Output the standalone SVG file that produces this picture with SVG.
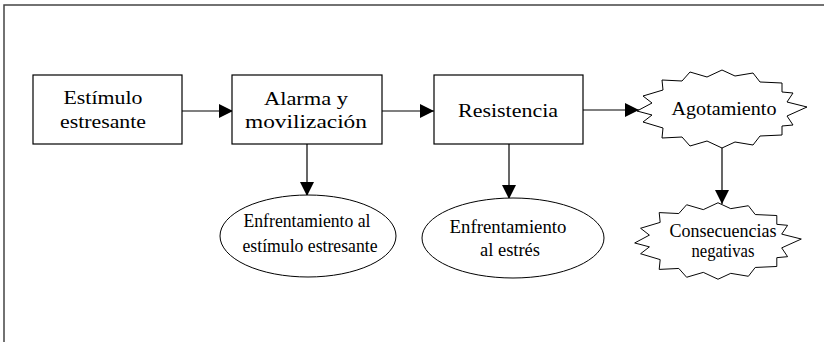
<svg xmlns="http://www.w3.org/2000/svg" width="824" height="342" viewBox="0 0 824 342">
<style>
.box{fill:#fff;stroke:#000;stroke-width:1.2}
.shape{fill:#fff;stroke:#000;stroke-width:1}
.t{font-family:"Liberation Serif","Times New Roman",serif;font-size:18px;fill:#000;text-anchor:middle}
.c{stroke:#000;stroke-width:1.2;fill:none}
</style>
<defs>
<marker id="ah" viewBox="0 0 14 14" refX="14" refY="7" markerWidth="14" markerHeight="14" markerUnits="userSpaceOnUse" orient="auto">
<path d="M0,0 L14,7 L0,14 Z" fill="#000"/>
</marker>
<path id="burst" d="M-85,2 L-70,-6 L-79,-13 L-59,-19 L-60,-29 L-40,-28 L-32,-37 L-15,-32 L0,-39 L13,-33 L31,-36 L38,-27 L60,-26 L60,-17 L71,-16 L65,-7 L85,-2 L65,7 L71,16 L60,17 L60,26 L38,27 L31,36 L13,33 L0,39 L-15,32 L-32,37 L-40,28 L-60,29 L-59,19 L-79,13 L-70,6 Z"/>
</defs>
<rect width="824" height="342" fill="#fff"/>
<path d="M4,342 V5 H824" fill="none" stroke="#444" stroke-width="1.5"/>

<g id="connectors">
<line class="c" x1="182" y1="111" x2="233" y2="111" marker-end="url(#ah)"/>
<line class="c" x1="382" y1="111" x2="434" y2="111" marker-end="url(#ah)"/>
<line class="c" x1="583" y1="110" x2="639" y2="110" marker-end="url(#ah)"/>
<line class="c" x1="307" y1="144" x2="307" y2="196" marker-end="url(#ah)"/>
<line class="c" x1="509" y1="144" x2="509" y2="199" marker-end="url(#ah)"/>
<line class="c" x1="722" y1="148" x2="722" y2="204" marker-end="url(#ah)"/>
</g>

<g id="n1">
<rect class="box" x="33" y="75" width="149" height="69"/>
<text class="t" x="103" y="104" textLength="79" lengthAdjust="spacingAndGlyphs">Estímulo</text>
<text class="t" x="103" y="128" textLength="86" lengthAdjust="spacingAndGlyphs">estresante</text>
</g>

<g id="n2">
<rect class="box" x="232" y="75" width="150" height="69"/>
<text class="t" x="306" y="105" textLength="84" lengthAdjust="spacingAndGlyphs">Alarma y</text>
<text class="t" x="306" y="128" textLength="122" lengthAdjust="spacingAndGlyphs">movilización</text>
</g>

<g id="n3">
<rect class="box" x="434" y="75" width="149" height="69"/>
<text class="t" x="508" y="117" textLength="100" lengthAdjust="spacingAndGlyphs">Resistencia</text>
</g>

<g id="n4">
<use href="#burst" class="shape" transform="translate(722,109)"/>
<text class="t" x="724" y="115" textLength="105" lengthAdjust="spacingAndGlyphs">Agotamiento</text>
</g>

<g id="n5">
<ellipse class="shape" cx="308" cy="236" rx="88" ry="41"/>
<text class="t" x="307" y="227" textLength="127" lengthAdjust="spacingAndGlyphs">Enfrentamiento al</text>
<text class="t" x="310" y="252" textLength="135" lengthAdjust="spacingAndGlyphs">estímulo estresante</text>
</g>

<g id="n6">
<ellipse class="shape" cx="513" cy="238" rx="91" ry="40"/>
<text class="t" x="508" y="233" textLength="117" lengthAdjust="spacingAndGlyphs">Enfrentamiento</text>
<text class="t" x="510" y="256" textLength="60" lengthAdjust="spacingAndGlyphs">al estrés</text>
</g>

<g id="n7">
<use href="#burst" class="shape" transform="translate(718,241) scale(0.98,0.98)"/>
<text class="t" x="723" y="237" textLength="107" lengthAdjust="spacingAndGlyphs">Consecuencias</text>
<text class="t" x="723" y="257" textLength="63" lengthAdjust="spacingAndGlyphs">negativas</text>
</g>
</svg>
